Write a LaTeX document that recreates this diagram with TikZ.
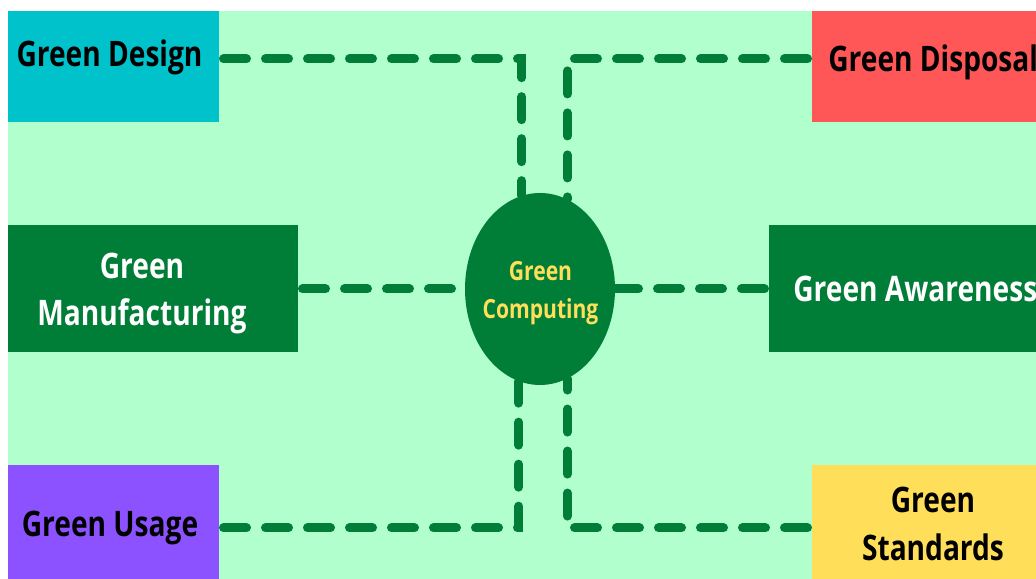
\documentclass[tikz,border=0pt]{standalone}
\usepackage{fontspec}
\usepackage{tikz}
\usetikzlibrary{shapes.geometric}
\newfontfamily\tagfont{Open Sans}[FakeStretch=0.8]

\definecolor{mint}{RGB}{176,255,204}
\definecolor{leaf}{RGB}{0,126,56}
\definecolor{cdesign}{RGB}{0,194,203}
\definecolor{cdisposal}{RGB}{255,87,87}
\definecolor{cusage}{RGB}{140,82,255}
\definecolor{cstandard}{RGB}{255,222,89}

\tikzset{
  tile/.style={rectangle, inner sep=0pt, outer sep=0pt},
  tag/.style={inner sep=0pt, font=\tagfont\bfseries\fontsize{20pt}{27pt}\selectfont},
  link/.style={draw=leaf, line width=0.18cm, line cap=round, dash pattern=on 0.46cm off 0.38cm, shorten <=0.09cm}
}

\begin{document}
\begin{tikzpicture}
\useasboundingbox (0,0) rectangle (20.72,11.58);
\clip (0,0) rectangle (20.72,11.58);

% Background
\fill[mint] (0.16,0) rectangle (20.72,11.36);

% Boxes
\node[tile, fill=cdesign, minimum width=4.22cm, minimum height=2.22cm] (design) at (2.27,10.25) {};
\node[tile, fill=cdisposal, minimum width=4.76cm, minimum height=2.22cm] (disposal) at (18.62,10.25) {};
\node[tile, fill=leaf, minimum width=5.8cm, minimum height=2.54cm] (manuf) at (3.06,5.8) {};
\node[tile, fill=leaf, minimum width=5.62cm, minimum height=2.54cm] (aware) at (18.19,5.8) {};
\node[tile, fill=cusage, minimum width=4.22cm, minimum height=2.28cm] (usage) at (2.27,1.14) {};
\node[tile, fill=cstandard, minimum width=4.76cm, minimum height=2.28cm] (standard) at (18.62,1.14) {};

% Centre
\node[ellipse, fill=leaf, inner sep=0pt, minimum width=3cm, minimum height=3.84cm] (hub) at (10.8,5.8) {};

% Texts
\node[tag, anchor=base] (designtxt) at (2.19,10.24) {Green Design};
\node[tag, anchor=base west] (disposaltxt) at (16.56,10.14) {Green Disposal};
\node[tag, white, align=center, font=\tagfont\bfseries\fontsize{20pt}{27.3pt}\selectfont] (manuftxt) at (2.84,5.71) {Green\\Manufacturing};
\node[tag, white, anchor=base west] (awaretxt) at (15.86,5.54) {Green Awareness};
\node[tag, anchor=base] (usagetxt) at (2.2,0.84) {Green Usage};
\node[tag, align=center, font=\tagfont\bfseries\fontsize{20pt}{26.8pt}\selectfont] (standardtxt) at (18.66,1.1) {Green\\Standards};
\node[tag, cstandard, align=center, font=\tagfont\bfseries\fontsize{15pt}{21.6pt}\selectfont] (hubtxt) at (10.81,5.72) {Green\\Computing};

% Connectors
\draw[link] ([yshift=0.15cm]design.east) -| (hub.101);
\draw[link] ([yshift=0.15cm]disposal.west) -| (hub.73);
\draw[link] (manuf) -- (hub);
\draw[link] (aware) -- (hub);
\draw[link] ([yshift=-0.12cm]usage.east) -| (hub.257);
\draw[link] ([yshift=-0.12cm]standard.west) -| (hub.287);
\end{tikzpicture}
\end{document}
